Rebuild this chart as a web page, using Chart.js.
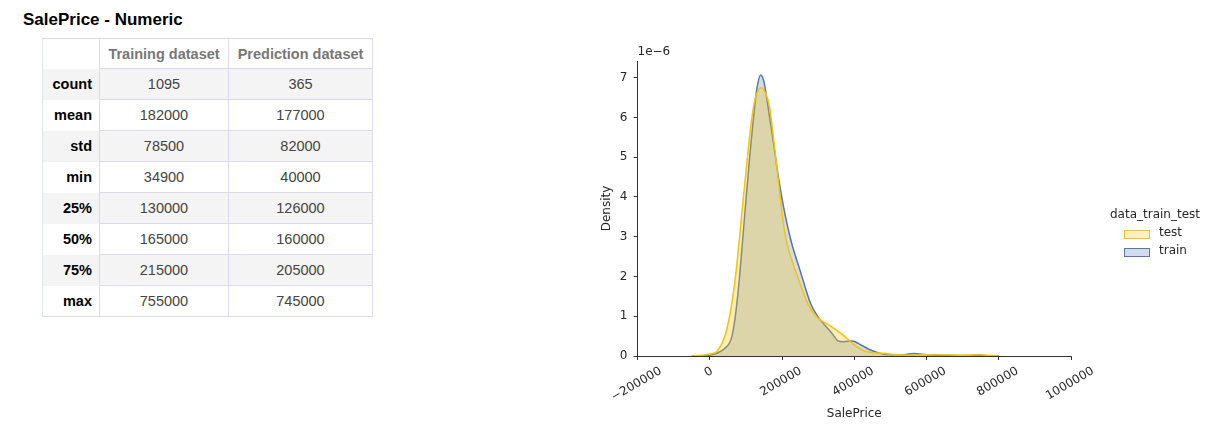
<!DOCTYPE html>
<html>
<head>
<meta charset="utf-8">
<script src="https://cdn.jsdelivr.net/npm/chart.js@4.4.1/dist/chart.umd.min.js"></script>
<style>
  body { margin: 0; background: #fff; width: 1220px; height: 433px; position: relative; overflow: hidden; font-family: "Liberation Sans", Arial, sans-serif; }
  #title { position: absolute; left: 23px; top: 10px; margin: 0; font-size: 17px; font-weight: bold; color: #000; }
  #stats { position: absolute; left: 42px; top: 38px; border-collapse: collapse; font-size: 14.5px; border-left: 1px solid #dde6ea; border-top: 1px solid #dcdaea; border-bottom: 1px solid #dcdaea; }
  #stats th, #stats td { padding: 0; text-align: center; }
  #stats thead th { height: 29px; color: #777; font-weight: bold; border-left: 1px solid #dcdaea; border-right: 1px solid #dcdaea; }
  #stats thead th.idx { border-left: none; width: 56px; }
  #stats tbody tr { height: 31px; }
  #stats tbody th { text-align: right; padding-right: 7px; font-weight: bold; color: #000; width: 49px; }
  #stats tbody td { color: #444; border: 1px solid #dcdaea; }
  #stats tbody tr:nth-child(odd) { background: #f4f4f4; }
  #chart { position: absolute; left: 580px; top: 0; }
  #legend { position: absolute; left: 1100px; top: 206px; font: 12px "DejaVu Sans", sans-serif; color: #262626; }
  #legend .ttl { position: absolute; left: 10px; top: 1px; white-space: nowrap; }
  #legend .sw { position: absolute; left: 24px; width: 24px; height: 7px; border: 1px solid; }
  #legend .lb { position: absolute; left: 59px; white-space: nowrap; }
</style>
</head>
<body>
<div id="title">SalePrice - Numeric</div>
<table id="stats"></table>
<canvas id="chart" width="640" height="433"></canvas>
<div id="legend"></div>
<script>
// table
const statLabels = ['count', 'mean', 'std', 'min', '25%', '50%', '75%', 'max'];
const tableHeaders = ['Training dataset', 'Prediction dataset'];
const trainingStats = [1095, 182000, 78500, 34900, 130000, 165000, 215000, 755000];
const predictionStats = [365, 177000, 82000, 40000, 126000, 160000, 205000, 745000];

// kde curves (density in units of 1e-6)
const legendTitle = 'data_train_test';
const seriesLabels = ['test', 'train'];
const testPrice = [-50000, -20000, 0, 20000, 40000, 55000, 70000, 80000, 90000, 100000, 110000, 120000, 130000, 142000, 155000, 166000, 177000, 190000, 200000, 212000, 240000, 275000, 295000, 330000, 370000, 395000, 430000, 480000, 520000, 560000, 620000, 660000, 700000, 745000, 780000, 800000];
const testDensity = [0, 0.02, 0.05, 0.12, 0.45, 1.0, 1.9, 2.75, 3.7, 4.6, 5.5, 6.2, 6.6, 6.75, 6.6, 6.25, 5.45, 4.4, 3.6, 2.9, 2.08, 1.25, 0.99, 0.78, 0.52, 0.32, 0.12, 0.07, 0.03, 0.02, 0.04, 0.03, 0.015, 0.035, 0.01, 0];
const trainPrice = [-50000, -20000, 0, 20000, 40000, 60000, 70000, 80000, 90000, 100000, 110000, 120000, 130000, 141000, 150000, 160000, 175000, 190000, 205000, 225000, 250000, 280000, 300000, 320000, 340000, 355000, 370000, 395000, 420000, 445000, 470000, 500000, 530000, 565000, 600000, 650000, 700000, 750000, 800000];
const trainDensity = [0, 0.005, 0.02, 0.07, 0.18, 0.45, 0.95, 1.75, 2.8, 3.9, 4.95, 5.9, 6.7, 7.07, 6.9, 6.35, 5.45, 4.5, 3.72, 2.9, 2.15, 1.3, 0.98, 0.76, 0.55, 0.38, 0.36, 0.38, 0.27, 0.15, 0.07, 0.03, 0.03, 0.06, 0.03, 0.015, 0.01, 0.01, 0];

const xTicks = [-200000, 0, 200000, 400000, 600000, 800000, 1000000];
const yTicks = [0, 1, 2, 3, 4, 5, 6, 7];

const testColor = '#f1c40f';
const trainColor = '#5b75a8';

// build the stats table
const table = document.getElementById('stats');
let html = '<thead><tr><th class="idx"></th>' + tableHeaders.map(h => `<th>${h}</th>`).join('') + '</tr></thead><tbody>';
statLabels.forEach((s, i) => {
    html += `<tr><th>${s}</th><td style="width:128px">${trainingStats[i]}</td><td style="width:143px">${predictionStats[i]}</td></tr>`;
});
table.innerHTML = html + '</tbody>';

// legend
const legend = document.getElementById('legend');
const legendFills = ['rgba(241,196,15,0.25)', 'rgba(76,114,176,0.25)'];
const legendLines = [testColor, trainColor];
legend.innerHTML = `<div class="ttl">${legendTitle}</div>` + seriesLabels.map((l, i) =>
    `<div class="sw" style="top:${24 + i * 18}px;background:${legendFills[i]};border-color:${legendLines[i]}"></div>` +
    `<div class="lb" style="top:${19 + i * 18}px">${l}</div>`).join('');

function fmtTick(v) {
    return v < 0 ? '\u2212' + Math.abs(v) : String(v);
}

const extraText = {
    id: 'extraText',
    afterDraw(chart) {
        const { ctx, chartArea, scales: { x } } = chart;
        ctx.save();
        ctx.font = '12px "DejaVu Sans"';
        ctx.fillStyle = '#262626';
        const a = Math.PI / 6;
        x.ticks.forEach(t => {
            const txt = fmtTick(t.value);
            const w = ctx.measureText(txt).width;
            const bh = w * Math.sin(a) + 8.7 * Math.cos(a);
            ctx.save();
            ctx.translate(x.getPixelForValue(t.value) - 1, chartArea.bottom + 10.5 + bh / 2);
            ctx.rotate(-a);
            ctx.textAlign = 'center';
            ctx.textBaseline = 'middle';
            ctx.fillText(txt, 0, 0);
            ctx.restore();
        });
        ctx.textAlign = 'left';
        ctx.textBaseline = 'alphabetic';
        ctx.fillText('1e\u22126', chartArea.left, chartArea.top - 6);
        ctx.restore();
    }
};

const axisFont = { family: 'DejaVu Sans', size: 12 };

new Chart(document.getElementById('chart'), {
    type: 'line',
    data: {
        datasets: [{
            label: seriesLabels[0],
            data: testPrice.map((p, i) => ({ x: p, y: testDensity[i] })),
            borderColor: testColor,
            backgroundColor: 'rgba(241,196,15,0.3)',
            fill: 'origin',
            order: 1
        }, {
            label: seriesLabels[1],
            data: trainPrice.map((p, i) => ({ x: p, y: trainDensity[i] })),
            borderColor: trainColor,
            backgroundColor: 'rgba(76,114,176,0.25)',
            fill: 'origin',
            order: 2
        }]
    },
    options: {
        responsive: false,
        animation: false,
        layout: { padding: { top: 61, right: 149, left: 0, bottom: 0 } },
        elements: {
            point: { radius: 0 },
            line: { borderWidth: 1.5, tension: 0.4, cubicInterpolationMode: 'monotone' }
        },
        plugins: { legend: { display: false }, tooltip: { enabled: false } },
        scales: {
            x: {
                type: 'linear',
                min: -200000,
                max: 1000000,
                afterBuildTicks: s => { s.ticks = xTicks.map(v => ({ value: v })); },
                afterFit: s => { s.height = 77; },
                ticks: { display: false },
                grid: { drawOnChartArea: false, tickLength: 4, color: '#333' },
                border: { color: '#333' },
                title: { display: true, text: 'SalePrice', color: '#262626', font: axisFont, padding: { top: 0, bottom: 11.8 } }
            },
            y: {
                min: 0,
                max: 7.42,
                afterBuildTicks: s => { s.ticks = yTicks.map(v => ({ value: v })); },
                afterFit: s => { s.width = 57.5; },
                ticks: { padding: 6, color: '#262626', font: axisFont },
                grid: { drawOnChartArea: false, tickLength: 4, color: '#333' },
                border: { color: '#333' },
                title: { display: true, text: 'Density', color: '#262626', font: axisFont, padding: { top: 19.8, bottom: 0 } }
            }
        }
    },
    plugins: [extraText]
});
</script>
</body>
</html>
